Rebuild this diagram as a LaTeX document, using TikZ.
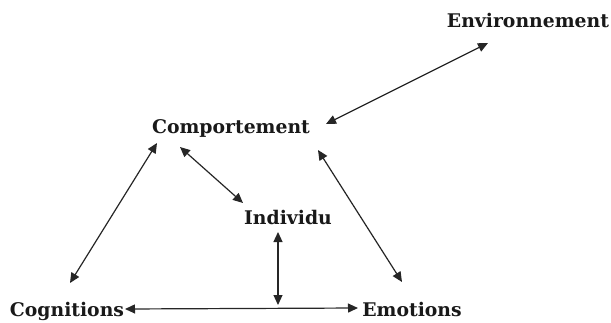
\documentclass[tikz,border=0pt]{standalone}
\usepackage{fontspec}
\setmainfont{DejaVu Serif}
\usetikzlibrary{arrows.meta}
\begin{document}
\begin{tikzpicture}[x=1pt,y=-1pt,
  lbl/.style={anchor=base,inner sep=0pt,font=\bfseries\fontsize{18.8}{21}\selectfont,text=black!90},
  link/.style={line width=1.2pt,draw=black!85,{Triangle[length=10pt,width=9pt]}-{Triangle[length=10pt,width=9pt]}}]
\useasboundingbox (0,0) rectangle (611,322);
\node[lbl] (env) at (528,27) {Environnement};
\node[lbl] (comp) at (231,133) {Comportement};
\node[lbl] (ind) at (288,224) {Individu};
\node[lbl] (cog) at (67,316) {Cognitions};
\node[lbl] (emo) at (412,316) {Emotions};
\coordinate (j) at (278,305);
\draw[link] ([shift={(-40,16)}]env.base) -- ([shift={(95,-9)}]comp.base);
\draw[link] ([shift={(-74,10)}]comp.base) -- ([shift={(3,-33)}]cog.base);
\draw[link] ([shift={(-51,14)}]comp.base) -- ([shift={(-45,-21)}]ind.base);
\draw[link] ([shift={(87,17)}]comp.base) -- ([shift={(-10,-34)}]emo.base);
\draw[link] ([shift={(-10,8)}]ind.base) -- (j);
\draw[link] ([shift={(58,-7)}]cog.base) -- ([shift={(-54,-8)}]emo.base);
\end{tikzpicture}
\end{document}
